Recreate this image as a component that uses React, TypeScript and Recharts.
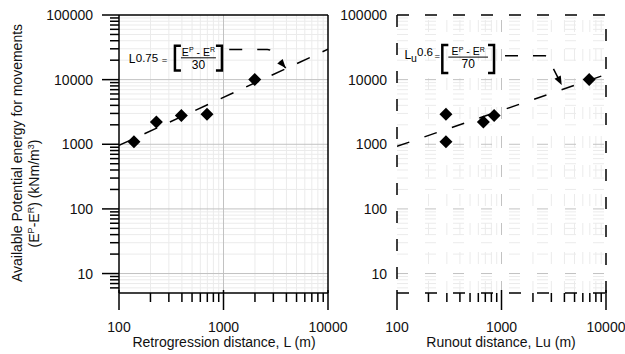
import React from "react"
import { ScatterChart, Scatter, XAxis, YAxis, ReferenceLine, ReferenceDot } from "recharts"

// measured points (diamonds)
const RETRO_POINTS = [
  { x: 139, y: 1090 },
  { x: 228, y: 2220 },
  { x: 395, y: 2790 },
  { x: 695, y: 2920 },
  { x: 1990, y: 10070 },
]
const RUNOUT_POINTS = [
  { x: 294, y: 2920 },
  { x: 294, y: 1090 },
  { x: 671, y: 2220 },
  { x: 850, y: 2790 },
  { x: 6900, y: 10070 },
]

// fitted power-law lines
const RETRO_FIT = [
  { x: 100, y: 960 },
  { x: 10000, y: 29500 },
]
const RUNOUT_FIT = [
  { x: 100, y: 930 },
  { x: 10000, y: 12000 },
]

// where the annotation arrows point
const RETRO_ARROW = { x: 3940, y: 15070 }
const RUNOUT_ARROW = { x: 3770, y: 8230 }

const X_DOMAIN = [100, 10000]
const Y_DOMAIN = [5, 100000]
const X_MAJOR = [100, 1000, 10000]
const Y_MAJOR = [10, 100, 1000, 10000, 100000]

const FONT = "'Liberation Sans', Arial, sans-serif"

// minor ticks 2..9 inside each decade, limited to domain
const minorsOf = (majors: number[], lo: number, hi: number) => {
  const out: number[] = []
  const starts = [majors[0] / 10, ...majors]
  starts.forEach((m) => {
    for (let k = 2; k <= 9; k++) {
      const v = m * k
      if (v > lo && v < hi) out.push(v)
    }
  })
  return out
}
const X_MINOR = minorsOf(X_MAJOR, X_DOMAIN[0], X_DOMAIN[1])
const Y_MINOR = minorsOf(Y_MAJOR, Y_DOMAIN[0], Y_DOMAIN[1])
const X_TICKS = [...X_MAJOR, ...X_MINOR].sort((a, b) => a - b)
const Y_TICKS = [...Y_MAJOR, ...Y_MINOR].sort((a, b) => a - b)

const isMajor = (v: number) => Math.abs(Math.log10(v) - Math.round(Math.log10(v))) < 1e-6

const Diamond = (props: any) => {
  const { cx, cy } = props
  if (cx == null || cy == null) return null
  const r = 6.5
  return <polygon points={`${cx},${cy - r} ${cx + r},${cy} ${cx},${cy + r} ${cx - r},${cy}`} fill="#000" />
}

const XTick = (props: any) => {
  const { x, y, payload } = props
  const major = isMajor(payload.value)
  return (
    <g>
      <line x1={x} x2={x} y1={major ? y - 3 : y} y2={y + (major ? 17 : 9)} stroke="#000" strokeWidth={1.5} />
      {major && (
        <text x={x} y={y + 39} textAnchor="middle" fontSize={14} fontFamily={FONT} fill="#111">
          {payload.value}
        </text>
      )}
    </g>
  )
}

const makeYTick = (outward: boolean, gap: number) => (props: any) => {
  const { x, y, payload } = props
  const major = isMajor(payload.value)
  const len = outward ? (major ? 17 : 9) : 0
  return (
    <g>
      {len > 0 && <line x1={x - len} x2={x} y1={y} y2={y} stroke="#000" strokeWidth={1.5} />}
      {major && (
        <text x={x - gap} y={y + 5} textAnchor="end" fontSize={14} fontFamily={FONT} fill="#111">
          {payload.value}
        </text>
      )}
    </g>
  )
}

const Bracketed = ({ x0, top, bottom, x1, denom }: any) => {
  // [ (E^P - E^R) / denom ]
  const mid = (x0 + x1) / 2
  return (
    <g fontFamily={FONT} fill="#000">
      <path d={`M${x0 + 6},${top} H${x0} V${bottom} H${x0 + 6}`} stroke="#000" strokeWidth={2.5} fill="none" />
      <text x={mid} y={top + 10} textAnchor="middle" fontSize={10.5}>
        E<tspan fontSize={7} dy={-3.5}>P</tspan>
        <tspan dy={3.5}> - E</tspan>
        <tspan fontSize={7} dy={-3.5}>R</tspan>
      </text>
      <line x1={x0 + 6} x2={x1 - 6} y1={top + 12} y2={top + 12} stroke="#000" strokeWidth={1} />
      <text x={mid} y={top + 23} textAnchor="middle" fontSize={12}>{denom}</text>
      <path d={`M${x1 - 6},${top} H${x1} V${bottom} H${x1 - 6}`} stroke="#000" strokeWidth={2.5} fill="none" />
    </g>
  )
}

const ArrowHead = ({ tx, ty, fx, fy }: any) => {
  const dx = tx - fx
  const dy = ty - fy
  const d = Math.hypot(dx, dy)
  const ux = dx / d
  const uy = dy / d
  const L = 9
  const W = 3.5
  const bx = tx - ux * L
  const by = ty - uy * L
  return <polygon points={`${tx},${ty} ${bx - uy * W},${by + ux * W} ${bx + uy * W},${by - ux * W}`} fill="#000" />
}

// annotation drawn relative to the arrow tip (cx, cy)
const RetroNote = (props: any) => {
  const { cx, cy } = props
  if (cx == null) return null
  const ox = cx - 286.5
  const oy = cy - 68
  return (
    <g transform={`translate(${ox},${oy})`}>
      <text x={129.5} y={63.3} fontSize={12} fontFamily={FONT}>L</text>
      <text x={136.5} y={61.5} fontSize={11.5} fontFamily={FONT}>0.75</text>
      <text x={162.5} y={63} fontSize={9.5} fontFamily={FONT}>=</text>
      <Bracketed x0={175.7} top={45.7} bottom={70.3} x1={222.7} denom="30" />
      <path d="M230,49.3 L268,49.3 Q272,49.3 274,53 L286.5,68" stroke="#000" strokeWidth={1.5} fill="none" strokeDasharray="13 15" />
      <ArrowHead tx={286.5} ty={68} fx={274} fy={53} />
    </g>
  )
}

const RunoutNote = (props: any) => {
  const { cx, cy } = props
  if (cx == null) return null
  const ox = cx - 561.7
  const oy = cy - 85
  return (
    <g transform={`translate(${ox},${oy})`}>
      <text x={404.5} y={58.5} fontSize={12} fontFamily={FONT}>L</text>
      <text x={411} y={61.5} fontSize={10.5} fontFamily={FONT}>u</text>
      <text x={417} y={55.5} fontSize={11.5} fontFamily={FONT}>0.6</text>
      <text x={434.5} y={58.5} fontSize={9.5} fontFamily={FONT}>=</text>
      <Bracketed x0={442.3} top={45} bottom={73} x1={494} denom="70" />
      <path d="M505,55.7 L545,55.7 Q547,55.7 548,58 L561.7,85" stroke="#000" strokeWidth={1.5} fill="none" strokeDasharray="13 15" />
      <ArrowHead tx={561.7} ty={85} fx={548} fy={58} />
    </g>
  )
}

const MAJOR_GRID = "#c2c2c2"
const MINOR_GRID = "#ebebeb"

function Panel(props: {
  left: number
  width: number
  yAxisWidth: number
  right: number
  points: { x: number; y: number }[]
  fit: { x: number; y: number }[]
  arrow: { x: number; y: number }
  note: (p: any) => any
  dashed: boolean
  fitDash: string
}) {
  const { dashed } = props
  const hDash = dashed ? "11 17" : undefined
  const vDash = dashed ? "12 17" : undefined
  const frameDash = dashed ? "12 16" : undefined
  return (
    <div style={{ position: "absolute", left: props.left, top: 0 }}>
      <ScatterChart
        width={props.width}
        height={354}
        margin={{ top: 15, right: props.right, bottom: 0, left: 0 }}
        style={{ overflow: "visible" }}
      >
        <XAxis
          type="number"
          dataKey="x"
          scale="log"
          domain={X_DOMAIN}
          ticks={X_TICKS}
          interval={0}
          tickSize={0}
          tickMargin={0}
          height={61}
          allowDataOverflow
          axisLine={{ stroke: "#000", strokeWidth: 1.5, strokeDasharray: frameDash }}
          tick={XTick}
        />
        <YAxis
          type="number"
          dataKey="y"
          scale="log"
          domain={Y_DOMAIN}
          ticks={Y_TICKS}
          interval={0}
          tickSize={0}
          tickMargin={0}
          width={props.yAxisWidth}
          allowDataOverflow
          axisLine={{ stroke: "#000", strokeWidth: 1.5, strokeDasharray: frameDash }}
          tick={makeYTick(!dashed, dashed ? 10 : 26)}
        />
        {X_MINOR.map((v) => (
          <ReferenceLine key={"xm" + v} x={v} stroke={MINOR_GRID} strokeWidth={1} strokeDasharray={vDash} />
        ))}
        {Y_MINOR.map((v) => (
          <ReferenceLine key={"ym" + v} y={v} stroke={MINOR_GRID} strokeWidth={1} strokeDasharray={hDash} />
        ))}
        {X_MAJOR.slice(1, -1).map((v) => (
          <ReferenceLine key={"xM" + v} x={v} stroke={MAJOR_GRID} strokeWidth={1} strokeDasharray={vDash} />
        ))}
        {Y_MAJOR.slice(0, -1).map((v) => (
          <ReferenceLine key={"yM" + v} y={v} stroke={MAJOR_GRID} strokeWidth={1} strokeDasharray={hDash} />
        ))}
        <ReferenceLine x={X_DOMAIN[1]} stroke="#000" strokeWidth={1.5} strokeDasharray={frameDash} />
        <ReferenceLine y={Y_DOMAIN[1]} stroke="#000" strokeWidth={1.5} strokeDasharray={frameDash} />
        <Scatter
          data={props.fit}
          line={{ stroke: "#000", strokeWidth: 1.5, strokeDasharray: props.fitDash }}
          shape={() => null}
          isAnimationActive={false}
        />
        <Scatter data={props.points} shape={Diamond} isAnimationActive={false} />
        <ReferenceDot x={props.arrow.x} y={props.arrow.y} shape={props.note} />
      </ScatterChart>
    </div>
  )
}

export default function App() {
  return (
    <div style={{ position: "absolute", left: 0, top: 0, width: 625, height: 354, background: "#fff", fontFamily: FONT }}>
      <Panel
        left={0}
        width={370}
        yAxisWidth={119}
        right={42}
        points={RETRO_POINTS}
        fit={RETRO_FIT}
        arrow={RETRO_ARROW}
        note={RetroNote}
        dashed={false}
        fitDash="14 14"
      />
      <Panel
        left={340}
        width={285}
        yAxisWidth={57}
        right={19}
        points={RUNOUT_POINTS}
        fit={RUNOUT_FIT}
        arrow={RUNOUT_ARROW}
        note={RunoutNote}
        dashed={true}
        fitDash="13 16"
      />
      <svg width={625} height={354} style={{ position: "absolute", left: 0, top: 0, pointerEvents: "none" }}>
        <g fontFamily={FONT} fontSize={14} fill="#111">
          <text transform="translate(22,153) rotate(-90)" textAnchor="middle">
            Available Potential energy for movements
          </text>
          <text transform="translate(38.5,193.5) rotate(-90)" textAnchor="middle">
            (E<tspan fontSize={9} dy={-5}>P</tspan>
            <tspan dy={5}>-E</tspan>
            <tspan fontSize={9} dy={-5}>R</tspan>
            <tspan dy={5}>)  (kNm/m</tspan>
            <tspan fontSize={9} dy={-5}>3</tspan>
            <tspan dy={5}>)</tspan>
          </text>
          <text x={224} y={347} textAnchor="middle">Retrogression distance, L (m)</text>
          <text x={501} y={347} textAnchor="middle">Runout distance, Lu (m)</text>
        </g>
      </svg>
    </div>
  )
}
